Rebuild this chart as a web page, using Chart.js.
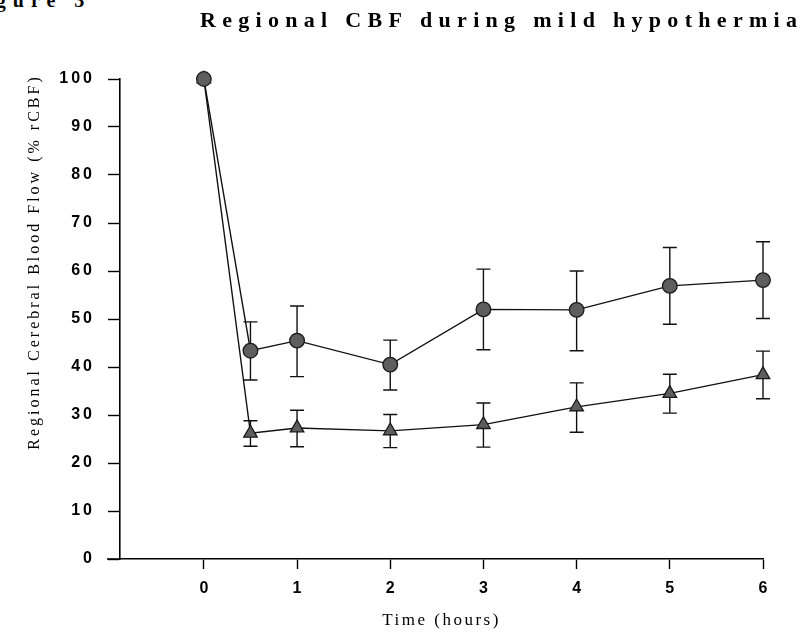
<!DOCTYPE html>
<html>
<head>
<meta charset="utf-8">
<title>Regional CBF during mild hypothermia</title>
<script src="https://cdn.jsdelivr.net/npm/chart.js@4.4.0/dist/chart.umd.min.js"></script>
<style>
  html, body { margin: 0; padding: 0; background: #fff; overflow: hidden; }
  #wrap { position: relative; width: 809px; height: 635px; }
  #fig { position: absolute; left: -36px; top: -10px; font: bold 20px "Liberation Serif", serif; letter-spacing: 7px; line-height: 20px; color: #000; }
  canvas { position: absolute; left: 0; top: 0; }
</style>
</head>
<body>
<div id="wrap">
  <div id="fig">Figure 3</div>
  <canvas id="cbf" width="809" height="635"></canvas>
</div>
<script>
// time points (hours)
var hours = [0, 0.5, 1, 2, 3, 4, 5, 6];
var xTicks = [0, 1, 2, 3, 4, 5, 6];
var xAxisFrom = -1.04;   // x axis line starts a little left of the y axis
var yAxisAt = -0.9;

// circles
var circleMean = [100, 43.4, 45.5, 40.5, 52.0, 51.9, 56.9, 58.1];
var circleHi   = [null, 49.4, 52.7, 45.6, 60.4, 60.0, 64.9, 66.1];
var circleLo   = [null, 37.3, 38.0, 35.2, 43.6, 43.4, 48.9, 50.1];

// triangles
var triMean = [100, 26.2, 27.3, 26.7, 28.0, 31.7, 34.5, 38.4];
var triHi   = [null, 28.8, 31.0, 30.1, 32.5, 36.7, 38.5, 43.3];
var triLo   = [null, 23.5, 23.4, 23.2, 23.3, 26.4, 30.4, 33.4];

function pts(ys) {
  return hours.map(function (h, i) { return { x: h, y: ys[i] }; });
}

function wrap(obj, name, ls, dx, dy) {
  var orig = obj[name];
  obj[name] = function () {
    var ctx = this.ctx;
    ctx.save();
    ctx.letterSpacing = ls;
    ctx.translate(dx, dy);
    orig.apply(this, arguments);
    ctx.restore();
  };
}

var spacing = {
  id: 'spacing',
  beforeDraw: function (chart) {
    if (chart._spaced) return;
    chart._spaced = true;
    wrap(chart.titleBlock, 'draw', '6.3px', 200 - chart.titleBlock.left, 0);
    wrap(chart.scales.y, 'drawLabels', '3px', 0, 0);
    wrap(chart.scales.y, 'drawTitle', '3px', 0, -57);
    wrap(chart.scales.x, 'drawTitle', '2.5px', 0, 0);
  }
};

var errorBars = {
  id: 'errorBars',
  beforeDatasetsDraw: function (chart) {
    var ctx = chart.ctx, xs = chart.scales.x, ys = chart.scales.y;
    ctx.save();
    ctx.strokeStyle = '#111';
    ctx.lineWidth = 1.4;
    [[circleLo, circleHi], [triLo, triHi]].forEach(function (pair) {
      hours.forEach(function (h, i) {
        if (pair[0][i] == null) return;
        var px = xs.getPixelForValue(h);
        var lo = ys.getPixelForValue(pair[0][i]);
        var hi = ys.getPixelForValue(pair[1][i]);
        ctx.beginPath();
        ctx.moveTo(px, lo); ctx.lineTo(px, hi);
        ctx.moveTo(px - 7, lo); ctx.lineTo(px + 7, lo);
        ctx.moveTo(px - 7, hi); ctx.lineTo(px + 7, hi);
        ctx.stroke();
      });
    });
    ctx.restore();
  },
  afterDraw: function (chart) {
    // small stub of the x axis to the left of the y axis
    var ctx = chart.ctx, xs = chart.scales.x, a = chart.chartArea;
    ctx.save();
    ctx.strokeStyle = '#000';
    ctx.lineWidth = 1.5;
    ctx.beginPath();
    ctx.moveTo(xs.getPixelForValue(xAxisFrom), a.bottom);
    ctx.lineTo(a.left, a.bottom);
    ctx.stroke();
    ctx.restore();
  }
};

var config = {
  type: 'line',
  data: {
    datasets: [{
      label: 'circles',
      data: pts(circleMean),
      borderColor: '#111',
      borderWidth: 1.4,
      pointStyle: 'circle',
      pointRadius: 7.3,
      pointBackgroundColor: '#5e5e5e',
      pointBorderColor: '#1a1a1a',
      pointBorderWidth: 1.3,
      tension: 0,
      clip: false
    }, {
      label: 'triangles',
      data: pts(triMean),
      borderColor: '#111',
      borderWidth: 1.4,
      pointStyle: 'triangle',
      pointRadius: 7.8,
      pointBackgroundColor: '#5e5e5e',
      pointBorderColor: '#1a1a1a',
      pointBorderWidth: 1.3,
      tension: 0,
      clip: false
    }]
  },
  options: {
    responsive: false,
    animation: false,
    layout: { padding: { left: 0, right: 46, top: 0, bottom: 0 } },
    plugins: {
      legend: { display: false },
      tooltip: { enabled: false },
      title: {
        display: true,
        text: 'Regional CBF during mild hypothermia',
        align: 'start',
        color: '#000',
        font: { family: 'Liberation Serif', size: 22, weight: 'bold' },
        padding: { top: 8, bottom: 44.6 }
      }
    },
    scales: {
      x: {
        type: 'linear',
        min: yAxisAt,
        max: 6,
        afterBuildTicks: function (s) { s.ticks = xTicks.map(function (v) { return { value: v }; }); },
        afterFit: function (s) { s.height = 76; },
        grid: { drawOnChartArea: false, tickLength: 10, tickColor: '#000', tickWidth: 1.4 },
        border: { color: '#000', width: 1.6 },
        ticks: {
          color: '#000',
          padding: 10,
          maxRotation: 0,
          font: { family: 'Liberation Sans', size: 16, weight: 'bold' }
        },
        title: {
          display: true,
          text: 'Time (hours)',
          color: '#000',
          font: { family: 'Liberation Serif', size: 17 },
          padding: { top: 0, bottom: 4 }
        }
      },
      y: {
        min: 0,
        max: 100,
        afterFit: function (s) { s.width = 120; },
        grid: { drawOnChartArea: false, tickLength: 12, tickColor: '#000', tickWidth: 1.4 },
        border: { color: '#000', width: 1.6 },
        ticks: {
          stepSize: 10,
          color: '#000',
          padding: 13,
          font: { family: 'Liberation Sans', size: 16, weight: 'bold' }
        },
        title: {
          display: true,
          text: 'Regional Cerebral Blood Flow (% rCBF)',
          color: '#000',
          font: { family: 'Liberation Serif', size: 16 },
          padding: { top: 25, bottom: 0 }
        }
      }
    }
  },
  plugins: [spacing, errorBars]
};

var cbfChart = new Chart(document.getElementById('cbf'), config);
</script>
</body>
</html>
